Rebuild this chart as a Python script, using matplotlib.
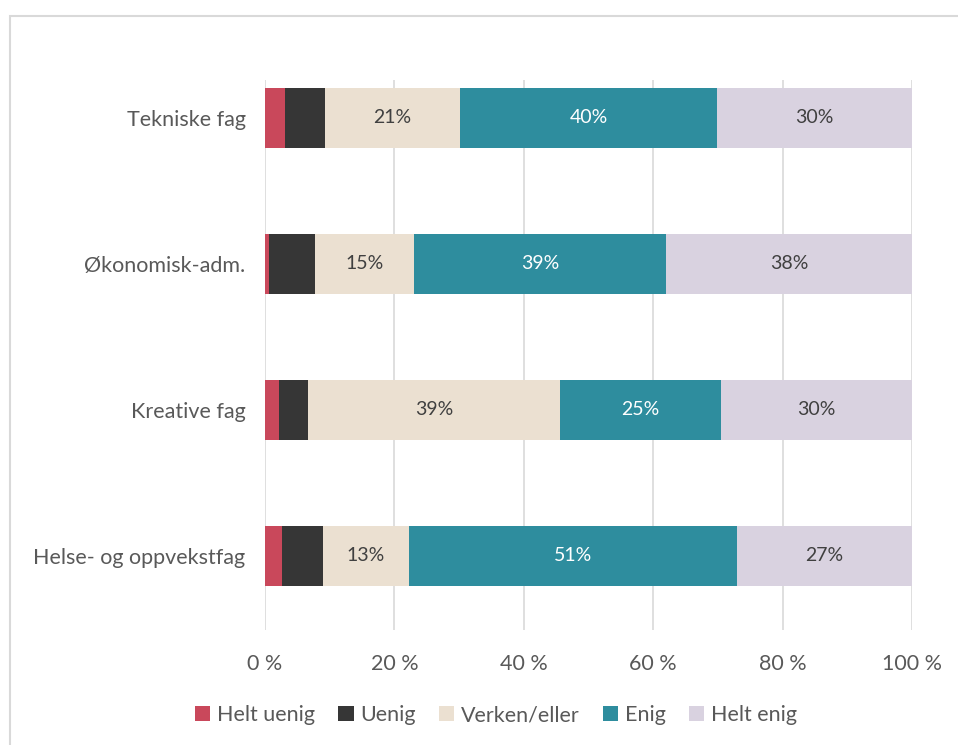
import matplotlib
matplotlib.use("Agg")
import matplotlib.pyplot as plt
from matplotlib.patches import Rectangle
import numpy as np

CATEGORIES = ["Tekniske fag", "Økonomisk-adm.", "Kreative fag", "Helse- og oppvekstfag"]
SERIES = ["Helt uenig", "Uenig", "Verken/eller", "Enig", "Helt enig"]
HELT_UENIG = [3.1, 0.6, 2.2, 2.6]
UENIG = [6.2, 7.1, 4.5, 6.3]
VERKEN = [20.8, 15.4, 38.9, 13.4]
ENIG = [39.8, 38.9, 24.9, 50.7]
HELT_ENIG = [30.1, 38.0, 29.5, 27.0]
XTICKS = [0, 20, 40, 60, 80, 100]

COLORS = ["#C9485B", "#363636", "#EBE0D1", "#2E8D9E", "#D9D2E0"]
TEXT_COLORS = [None, None, "#404040", "white", "#404040"]

plt.rcParams["font.family"] = ["Lato", "DejaVu Sans"]

fig = plt.figure(figsize=(9.58, 7.45), dpi=100)
ax = fig.add_axes([265 / 958, 115 / 745, (912 - 265) / 958, 550 / 745])

# light frame round the chart area
fig.patches.append(Rectangle((10 / 958, -0.05), 1.2, (745 - 16) / 745 + 0.05,
                             transform=fig.transFigure, fill=False,
                             edgecolor="#D9D9D9", linewidth=1.5))

y = np.arange(len(CATEGORIES))
data = [HELT_UENIG, UENIG, VERKEN, ENIG, HELT_ENIG]
left = np.zeros(len(CATEGORIES))
for name, vals, col, tcol in zip(SERIES, data, COLORS, TEXT_COLORS):
    vals = np.array(vals)
    ax.barh(y, vals, left=left, height=0.41, color=col, label=name,
            edgecolor="none", zorder=3)
    if tcol is not None:
        for yi, l, v in zip(y, left, vals):
            if v >= 10:
                ax.text(l + v / 2, yi, f"{v:.0f}%", ha="center", va="center",
                        color=tcol, fontsize=14, zorder=4)
    left += vals

ax.set_xlim(0, 100)
ax.set_ylim(3.507, -0.26)
ax.set_yticks(y)
ax.set_yticklabels(CATEGORIES, fontsize=15.5, color="#595959")
ax.set_xticks(XTICKS)
ax.set_xticklabels([f"{t} %" for t in XTICKS], fontsize=15.5, color="#595959")
ax.tick_params(length=0)
ax.tick_params(axis="x", pad=17)
ax.tick_params(axis="y", pad=14)
for s in ax.spines.values():
    s.set_visible(False)
ax.grid(axis="x", color="#D9D9D9", linewidth=1.2, zorder=0)
ax.set_axisbelow(True)

fig.legend(loc="center", bbox_to_anchor=(496 / 958, 1 - 715 / 745), ncol=5,
           frameon=False, fontsize=15.5, handlelength=0.7, handleheight=0.7,
           handletextpad=0.3, columnspacing=1.1, labelcolor="#595959")

fig.savefig("out.png", dpi=100)
